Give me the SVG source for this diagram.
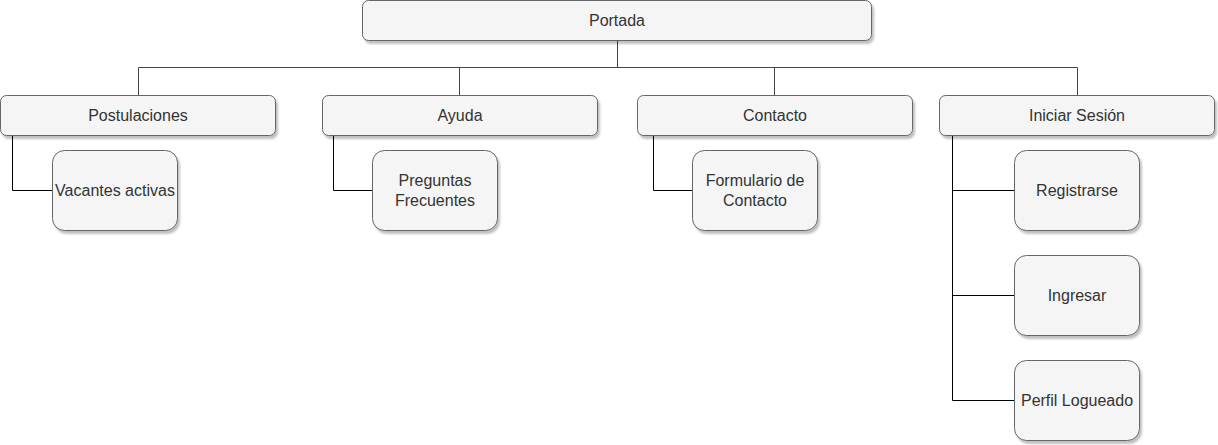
<svg xmlns="http://www.w3.org/2000/svg" width="1218" height="445" viewBox="0 0 1218 445">
<defs>
<filter id="sh" x="-10%" y="-10%" width="130%" height="140%">
<feGaussianBlur in="SourceAlpha" stdDeviation="1"/>
<feOffset dx="2" dy="3" result="o"/>
<feComponentTransfer><feFuncA type="linear" slope="0.25"/></feComponentTransfer>
<feMerge><feMergeNode/><feMergeNode in="SourceGraphic"/></feMerge>
</filter>
</defs>
<style>
.n rect{fill:#f5f5f5;stroke:#666666;stroke-width:1;filter:url(#sh)}
.n text{font-family:"Liberation Sans",Arial,sans-serif;font-size:16px;fill:#333333;text-anchor:middle;dominant-baseline:central}
.c1{fill:none;stroke:#444444;stroke-width:1}
.c2{fill:none;stroke:#000000;stroke-width:1}
</style>
<rect width="1218" height="445" fill="#ffffff"/>
<g id="connectors">
<path class="c1" d="M617.5 41 V67.5 M138.5 95.5 V67.5 H1077.5 V95.5 M459.5 67.5 V95.5 M774.5 67.5 V95.5"/>
<path class="c2" d="M12.5 135.5 V190.5 H52.5"/>
<path class="c2" d="M333.5 135.5 V190.5 H372.5"/>
<path class="c2" d="M653.5 135.5 V190.5 H692.5"/>
<path class="c2" d="M952.5 135.5 V400.5 H1014.5 M952.5 190.5 H1014.5 M952.5 295.5 H1014.5"/>
</g>
<g id="portada" class="n"><rect x="362.5" y="0.5" width="509" height="40" rx="6"/><text x="617" y="20.5">Portada</text></g>
<g id="postulaciones" class="n"><rect x="0.5" y="95.5" width="275" height="40" rx="6"/><text x="138" y="115.5">Postulaciones</text></g>
<g id="ayuda" class="n"><rect x="322.5" y="95.5" width="275" height="40" rx="6"/><text x="460" y="115.5">Ayuda</text></g>
<g id="contacto" class="n"><rect x="637.5" y="95.5" width="275" height="40" rx="6"/><text x="775" y="115.5">Contacto</text></g>
<g id="iniciar" class="n"><rect x="939.5" y="95.5" width="275" height="40" rx="6"/><text x="1077" y="115.5">Iniciar Sesión</text></g>
<g id="vacantes" class="n"><rect x="52.5" y="150.5" width="125" height="80" rx="12"/><text x="115" y="190.5">Vacantes activas</text></g>
<g id="preguntas" class="n"><rect x="372.5" y="150.5" width="125" height="80" rx="12"/><text x="435" y="180.5">Preguntas</text><text x="435" y="200">Frecuentes</text></g>
<g id="formulario" class="n"><rect x="692.5" y="150.5" width="125" height="80" rx="12"/><text x="755" y="180.5">Formulario de</text><text x="755" y="200">Contacto</text></g>
<g id="registrarse" class="n"><rect x="1014.5" y="150.5" width="125" height="80" rx="12"/><text x="1077" y="190.5">Registrarse</text></g>
<g id="ingresar" class="n"><rect x="1014.5" y="255.5" width="125" height="80" rx="12"/><text x="1077" y="295.5">Ingresar</text></g>
<g id="perfil" class="n"><rect x="1014.5" y="360.5" width="125" height="80" rx="12"/><text x="1077" y="400.5">Perfil Logueado</text></g>
</svg>
